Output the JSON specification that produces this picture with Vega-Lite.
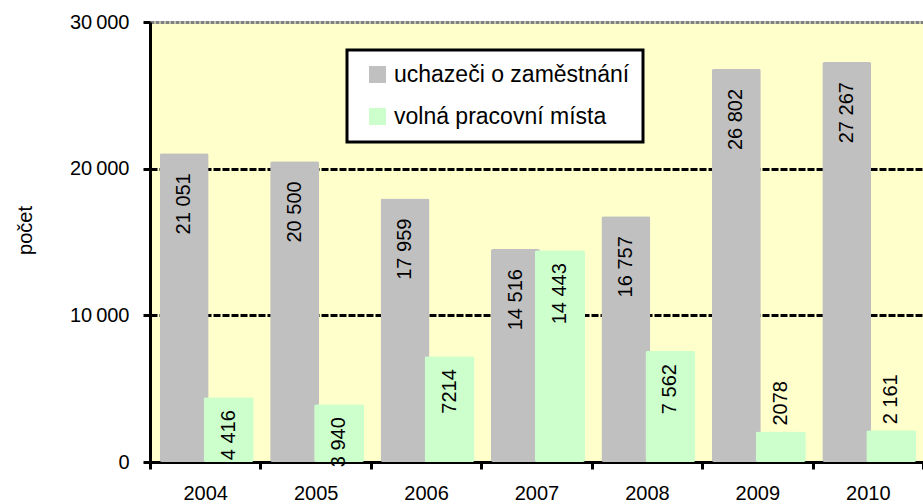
{
  "$schema": "https://vega.github.io/schema/vega-lite/v6.json",
  "width": 773,
  "height": 440,
  "autosize": {"type": "none"},
  "padding": {"left": 150, "top": 22, "right": 0, "bottom": 42},
  "background": "white",
  "config": {
    "font": "Liberation Sans",
    "view": {"stroke": null, "fill": "#FFFFCC"},
    "locale": {"number": {"decimal": ",", "thousands": "\u2009", "grouping": [3], "currency": ["", " Kč"]}},
    "legend": {
      "orient": "none",
      "legendX": 197,
      "legendY": 28,
      "title": null,
      "labelFontSize": 23,
      "labelColor": "black",
      "labelLimit": 400,
      "labelOffset": 5,
      "symbolType": "square",
      "symbolSize": 289,
      "symbolStrokeWidth": 0,
      "symbolOpacity": 1,
      "symbolOffset": 6,
      "rowPadding": 18,
      "padding": 13,
      "strokeColor": "black",
      "strokeWidth": 3,
      "fillColor": "white"
    }
  },
  "data": {
    "values": [
      {"year": "2004", "series": "uchazeči o zaměstnání", "value": 21051, "label": "21 051"},
      {"year": "2005", "series": "uchazeči o zaměstnání", "value": 20500, "label": "20 500"},
      {"year": "2006", "series": "uchazeči o zaměstnání", "value": 17959, "label": "17 959"},
      {"year": "2007", "series": "uchazeči o zaměstnání", "value": 14516, "label": "14 516"},
      {"year": "2008", "series": "uchazeči o zaměstnání", "value": 16757, "label": "16 757"},
      {"year": "2009", "series": "uchazeči o zaměstnání", "value": 26802, "label": "26 802"},
      {"year": "2010", "series": "uchazeči o zaměstnání", "value": 27267, "label": "27 267"},
      {"year": "2004", "series": "volná pracovní místa", "value": 4416, "label": "4 416"},
      {"year": "2005", "series": "volná pracovní místa", "value": 3940, "label": "3 940"},
      {"year": "2006", "series": "volná pracovní místa", "value": 7214, "label": "7214"},
      {"year": "2007", "series": "volná pracovní místa", "value": 14443, "label": "14 443"},
      {"year": "2008", "series": "volná pracovní místa", "value": 7562, "label": "7 562"},
      {"year": "2009", "series": "volná pracovní místa", "value": 2078, "label": "2078"},
      {"year": "2010", "series": "volná pracovní místa", "value": 2161, "label": "2 161"}
    ]
  },
  "encoding": {
    "x": {
      "field": "year",
      "type": "ordinal",
      "scale": {"paddingInner": 0, "paddingOuter": 0},
      "axis": {
        "title": null,
        "labelAngle": 0,
        "labelFontSize": 20,
        "labelColor": "black",
        "labelPadding": 14,
        "tickBand": "extent",
        "tickColor": "black",
        "tickWidth": 3,
        "tickSize": 7,
        "domainColor": "black",
        "domainWidth": 3,
        "grid": false
      }
    },
    "y": {
      "field": "value",
      "type": "quantitative",
      "scale": {"domain": [0, 30000], "nice": false},
      "axis": {
        "title": "počet",
        "titleFontSize": 20,
        "titleFontWeight": "normal",
        "titleColor": "black",
        "titlePadding": 34,
        "titleY": 208,
        "values": [0, 10000, 20000, 30000],
        "format": ",d",
        "labelFontSize": 20,
        "labelColor": "black",
        "labelPadding": 14,
        "tickColor": "black",
        "tickWidth": 3,
        "tickSize": 7,
        "domainColor": "black",
        "domainWidth": 3,
        "grid": true,
        "gridWidth": 3,
        "gridColor": {"condition": {"test": "datum.value === 30000", "value": "#808080"}, "value": "black"},
        "gridDash": {"condition": {"test": "datum.value === 30000", "value": [4, 1]}, "value": [7, 2]},
        "gridOpacity": {"condition": {"test": "datum.value === 0", "value": 0}, "value": 1}
      }
    }
  },
  "layer": [
    {
      "transform": [{"filter": "datum.series === 'uchazeči o zaměstnání'"}],
      "mark": {"type": "bar", "width": 49, "xOffset": -21, "cornerRadius": 2},
      "encoding": {
        "color": {
          "field": "series",
          "type": "nominal",
          "scale": {"domain": ["uchazeči o zaměstnání", "volná pracovní místa"], "range": ["#C0C0C0", "#CCFFCC"]}
        }
      }
    },
    {
      "transform": [{"filter": "datum.series === 'volná pracovní místa'"}],
      "mark": {"type": "bar", "width": 50, "xOffset": 23.5, "cornerRadius": 2},
      "encoding": {
        "color": {"field": "series", "type": "nominal"}
      }
    },
    {
      "transform": [{"filter": "datum.series === 'uchazeči o zaměstnání'"}],
      "mark": {"type": "text", "angle": 270, "align": "right", "baseline": "middle", "dx": -20, "xOffset": -21, "fontSize": 20, "color": "black"},
      "encoding": {"text": {"field": "label"}}
    },
    {
      "transform": [{"filter": "datum.series === 'volná pracovní místa' && datum.value >= 3000"}],
      "mark": {"type": "text", "angle": 270, "align": "right", "baseline": "middle", "dx": -13, "xOffset": 23.5, "fontSize": 20, "color": "black"},
      "encoding": {"text": {"field": "label"}}
    },
    {
      "transform": [{"filter": "datum.series === 'volná pracovní místa' && datum.value < 3000"}],
      "mark": {"type": "text", "angle": 270, "align": "left", "baseline": "middle", "dx": 6, "xOffset": 23.5, "fontSize": 20, "color": "black"},
      "encoding": {"text": {"field": "label"}}
    }
  ]
}
